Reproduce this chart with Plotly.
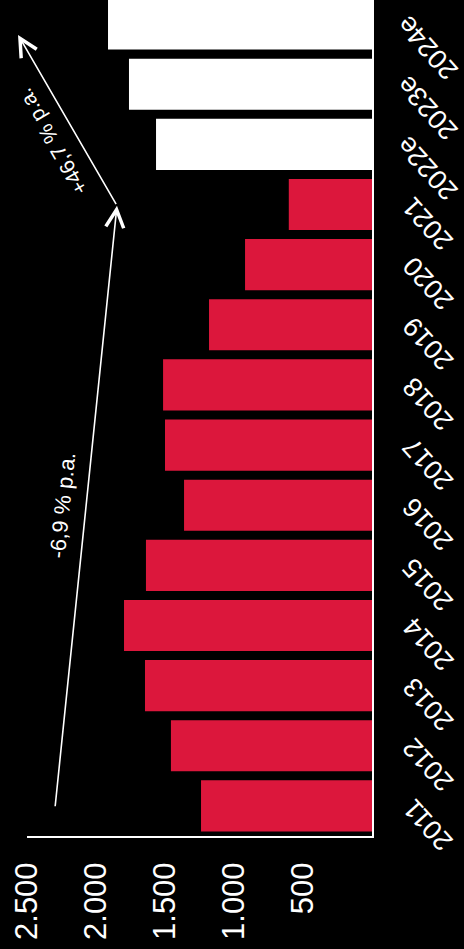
import plotly.graph_objects as go

years = ["2011", "2012", "2013", "2014", "2015", "2016", "2017", "2018",
         "2019", "2020", "2021", "2022e", "2023e", "2024e"]
values = [1239, 1457, 1645, 1797, 1638, 1362, 1500, 1514,
          1181, 920, 603, 1565, 1761, 1913]
tick_vals = [500, 1000, 1500, 2000, 2500]
tick_text = ["500", "1.000", "1.500", "2.000", "2.500"]

RED = "#DC173C"
colors = ["#FFFFFF" if y.endswith("e") else RED for y in years]
FONT = "Liberation Sans"

fig = go.Figure(go.Bar(
    y=years, x=values, orientation="h",
    marker=dict(color=colors, line=dict(width=0)),
))

fig.update_layout(
    width=464, height=949,
    margin=dict(l=27, r=92, t=0, b=113),
    paper_bgcolor="black", plot_bgcolor="black",
    bargap=0.15, showlegend=False,
    font=dict(family=FONT, color="white"),
    xaxis=dict(range=[2500, 0], tickvals=tick_vals, ticktext=tick_text,
               tickangle=-90, tickfont=dict(size=31, color="white"),
               showgrid=False, zeroline=False, showline=True,
               linecolor="white", linewidth=2, ticks="",
               ticklabelstandoff=12, automargin=False),
    yaxis=dict(type="category", side="right", range=[-0.5, 13.4],
               showticklabels=False,
               showgrid=False, zeroline=False, showline=True,
               linecolor="white", linewidth=2, ticks="", automargin=False),
)

# category labels, rotated (centre offset grows with label length)
for i, yr in enumerate(years):
    n = len(yr)
    fig.add_annotation(x=1, xref="paper", y=i, yref="y", xanchor="center",
                       yanchor="middle", xshift=56,
                       yshift=-(19 + 5 * (n - 4)), showarrow=False,
                       text=yr, textangle=-132,
                       font=dict(size=27, color="white", family=FONT))

# growth arrows (data coordinates: value, category index)
fig.add_annotation(x=1848, y=9.98, ax=2297, ay=-0.03, xref="x", yref="y",
                   axref="x", ayref="y", showarrow=True, arrowhead=5,
                   arrowsize=2.2, arrowwidth=1.6, arrowcolor="white", text="")
fig.add_annotation(x=2565, y=12.82, ax=1848, ay=9.98, xref="x", yref="y",
                   axref="x", ayref="y", showarrow=True, arrowhead=5,
                   arrowsize=2.2, arrowwidth=1.6, arrowcolor="white", text="")
fig.add_annotation(x=2245, y=5.0, xref="x", yref="y", showarrow=False,
                   text="-6,9 % p.a.", textangle=-84,
                   font=dict(size=22, color="white", family=FONT))
fig.add_annotation(x=2320, y=11.05, xref="x", yref="y", showarrow=False,
                   text="+46,7 % p.a.", textangle=-120,
                   font=dict(size=21, color="white", family=FONT))

fig.write_html("out.html")
